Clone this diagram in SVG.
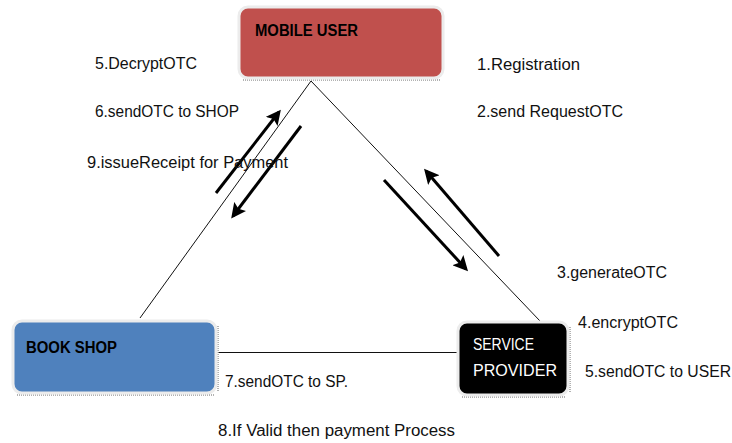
<svg xmlns="http://www.w3.org/2000/svg" width="732" height="443" viewBox="0 0 732 443">
  <style>
    .lbl { font-family: "Liberation Sans", Arial, sans-serif; font-size: 16px; fill: #111; }
    .title { font-family: "Liberation Sans", Arial, sans-serif; font-size: 16px; font-weight: bold; fill: #000; }
    .white { font-family: "Liberation Sans", Arial, sans-serif; font-size: 16px; fill: #fff; }
    .edge { stroke: #111; stroke-width: 1; fill: none; }
    .flow { stroke: #000; stroke-width: 3; fill: none; marker-end: url(#head); }
    .shadow { fill: none; stroke: #999; stroke-width: 1.5; stroke-dasharray: 1 1; }
    .frame { stroke: #ececec; stroke-width: 3; }
  </style>
  <defs>
    <marker id="head" viewBox="0 0 10 10" refX="8" refY="5" markerWidth="5" markerHeight="5" orient="auto" markerUnits="strokeWidth">
      <path d="M0,0 L10,5 L0,10 L2,5 z" fill="#000"/>
    </marker>
  </defs>

  <rect width="732" height="443" fill="#fff"/>

  <!-- connectors: triangle of links plus the message flows -->
  <g id="connectors">
    <line class="edge" x1="311" y1="81" x2="140" y2="318"/>
    <line class="edge" x1="311" y1="81" x2="540" y2="321"/>
    <line class="edge" x1="218" y1="352.5" x2="458" y2="352.5"/>
    <line class="flow" x1="216" y1="193" x2="279" y2="112"/>
    <line class="flow" x1="301" y1="126" x2="233" y2="216"/>
    <line class="flow" x1="384" y1="180" x2="466" y2="269"/>
    <line class="flow" x1="499" y1="256" x2="426" y2="171"/>
  </g>

  <!-- nodes -->
  <g id="mobile-user">
    <path class="shadow" d="M243,80 H441" stroke="#c58c8a"/>
    <rect class="frame" x="239" y="7" width="204" height="71" rx="9" fill="#C0504D"/>
    <text class="title" x="255" y="36" textLength="103" lengthAdjust="spacingAndGlyphs">MOBILE USER</text>
  </g>

  <g id="book-shop">
    <path class="shadow" d="M17,395 H214 M218,326 V391"/>
    <rect class="frame" x="13" y="321" width="203" height="72" rx="9" fill="#4F81BD"/>
    <text class="title" x="26" y="353" textLength="91" lengthAdjust="spacingAndGlyphs">BOOK SHOP</text>
  </g>

  <g id="service-provider">
    <path class="shadow" d="M462,397 H566 M570,327 V393"/>
    <rect class="frame" x="458" y="322" width="110" height="73" rx="9" fill="#000"/>
    <text class="white" x="473" y="350" textLength="61" lengthAdjust="spacingAndGlyphs">SERVICE</text>
    <text class="white" x="473" y="376" textLength="84" lengthAdjust="spacingAndGlyphs">PROVIDER</text>
  </g>

  <!-- step labels -->
  <g id="labels">
    <text class="lbl" x="95" y="69" textLength="102" lengthAdjust="spacingAndGlyphs">5.DecryptOTC</text>
    <text class="lbl" x="95" y="117" textLength="144" lengthAdjust="spacingAndGlyphs">6.sendOTC to SHOP</text>
    <text class="lbl" x="87" y="168" textLength="201" lengthAdjust="spacingAndGlyphs">9.issueReceipt for Payment</text>
    <text class="lbl" x="477" y="70" textLength="103" lengthAdjust="spacingAndGlyphs">1.Registration</text>
    <text class="lbl" x="477" y="117" textLength="146" lengthAdjust="spacingAndGlyphs">2.send RequestOTC</text>
    <text class="lbl" x="557" y="278" textLength="110" lengthAdjust="spacingAndGlyphs">3.generateOTC</text>
    <text class="lbl" x="578" y="328" textLength="100" lengthAdjust="spacingAndGlyphs">4.encryptOTC</text>
    <text class="lbl" x="585" y="377" textLength="146" lengthAdjust="spacingAndGlyphs">5.sendOTC to USER</text>
    <text class="lbl" x="225" y="387" textLength="123" lengthAdjust="spacingAndGlyphs">7.sendOTC to SP.</text>
    <text class="lbl" x="218" y="436" textLength="237" lengthAdjust="spacingAndGlyphs">8.If Valid then payment Process</text>
  </g>
</svg>
